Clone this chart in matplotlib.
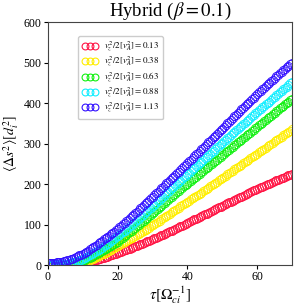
import matplotlib
matplotlib.use("Agg")
import matplotlib.pyplot as plt

plt.rcParams['font.family'] = ['Liberation Serif', 'DejaVu Serif']
plt.rcParams['mathtext.fontset'] = 'stix'

# tau sampled every 0.5 from 0 to 70 (141 samples)
tau = [0.5 * i for i in range(141)]

blue = [5, 5.1, 5.2, 5.5, 5.8, 6.3, 6.8, 7.5, 8.2, 9.1,
        10, 11.2, 12.5, 14.2, 16, 17.7, 19.5, 21.5, 23.5, 25.7,
        28, 30.5, 33, 35.7, 38.5, 41.5, 44.5, 47.5, 50.5, 53.7,
        57, 60, 63, 66, 69, 72.5, 76, 79.2, 82.5, 85.7,
        89, 92.7, 96.5, 100.2, 104, 108, 112, 116, 120, 124,
        128, 132, 136, 140, 144, 148, 152, 156.2, 160.5, 164.7,
        169, 173, 177, 181, 185, 189.2, 193.5, 197.5, 201.5, 205.7,
        210, 214, 218, 222.2, 226.5, 230.7, 235, 239.2, 243.5, 247.7,
        252, 256.2, 260.5, 264.7, 269, 273, 277, 281.2, 285.5, 289.7,
        294, 298.2, 302.5, 306.7, 311, 315.2, 319.5, 323.7, 328, 332.5,
        337, 341.2, 345.5, 349.7, 354, 358.2, 362.5, 366.7, 371, 375.5,
        380, 384.2, 388.5, 392.7, 397, 401, 405, 409.2, 413.5, 417.7,
        422, 426, 430, 434, 438, 442, 446, 450, 454, 458,
        462, 465.7, 469.5, 473.2, 477, 481, 485, 488.7, 492.5, 496.2,
        500]
cyan = [1, 1.1, 1.2, 1.3, 1.5, 1.7, 2, 2.2, 2.5, 2.7,
        3, 3.7, 4.5, 5.5, 6.5, 7.7, 9, 10.5, 12, 13.5,
        15, 17, 19, 21.5, 24, 26.5, 29, 31.7, 34.5, 37.2,
        40, 43, 46, 49, 52, 55.2, 58.5, 61.7, 65, 68,
        71, 74.5, 78, 81.5, 85, 88.5, 92, 95.7, 99.5, 103.2,
        107, 110.7, 114.5, 118.2, 122, 126, 130, 133.7, 137.5, 141.2,
        145, 149, 153, 157, 161, 165, 169, 173, 177, 181,
        185, 189, 193, 197, 201, 204.7, 208.5, 212.5, 216.5, 220.2,
        224, 228, 232, 236, 240, 243.7, 247.5, 251.5, 255.5, 259.2,
        263, 267, 271, 275, 279, 282.7, 286.5, 290.5, 294.5, 298.2,
        302, 305.7, 309.5, 313.2, 317, 321, 325, 328.7, 332.5, 336.2,
        340, 343.7, 347.5, 351.2, 355, 359, 363, 366.7, 370.5, 374.2,
        378, 381.7, 385.5, 389.2, 393, 396.5, 400, 403.7, 407.5, 411.2,
        415, 418.7, 422.5, 426.2, 430, 433.5, 437, 440.7, 444.5, 448.2,
        452]
green = [0, 0.1, 0.2, 0.4, 0.6, 0.8, 1, 1.2, 1.5, 1.7,
         2, 2.5, 3, 3.7, 4.5, 5.5, 6.5, 7.5, 8.5, 9.7,
         11, 12.7, 14.5, 16.5, 18.5, 20.7, 23, 25.2, 27.5, 29.7,
         32, 34.5, 37, 39.5, 42, 44.5, 47, 49.7, 52.5, 55.2,
         58, 61.2, 64.5, 67.7, 71, 74.5, 78, 81.5, 85, 88.5,
         92, 95.5, 99, 102.5, 106, 109.7, 113.5, 117.2, 121, 124.5,
         128, 131.7, 135.5, 139.2, 143, 146.7, 150.5, 154.2, 158, 161.5,
         165, 168.5, 172, 175.7, 179.5, 183, 186.5, 190.2, 194, 197.5,
         201, 204.5, 208, 211.5, 215, 218.5, 222, 225.5, 229, 232.5,
         236, 239.5, 243, 246.5, 250, 253.5, 257, 260.5, 264, 267.5,
         271, 274.5, 278, 281.5, 285, 288.5, 292, 295.5, 299, 302.5,
         306, 309.5, 313, 316.5, 320, 323.5, 327, 330.5, 334, 337.5,
         341, 344.5, 348, 351.5, 355, 358.5, 362, 365.5, 369, 372.5,
         376, 379.5, 383, 386.5, 390, 393.2, 396.5, 399.7, 403, 406.5,
         410]
yellow = [0, 0, 0, 0.1, 0.2, 0.3, 0.4, 0.5, 0.7, 0.8,
          1, 1.4, 1.8, 2.3, 2.8, 3.4, 4, 4.7, 5.5, 6.2,
          7, 8.2, 9.5, 11, 12.5, 14.2, 16, 18, 20, 22,
          24, 26, 28, 30.2, 32.5, 34.7, 37, 39.2, 41.5, 43.7,
          46, 48.5, 51, 53.5, 56, 58.5, 61, 63.7, 66.5, 69.2,
          72, 74.5, 77, 79.5, 82, 84.7, 87.5, 90, 92.5, 95.2,
          98, 101, 104, 106.7, 109.5, 112.5, 115.5, 118.2, 121, 124,
          127, 130, 133, 135.7, 138.5, 141.5, 144.5, 147.2, 150, 153,
          156, 159, 162, 164.7, 167.5, 170.5, 173.5, 176.2, 179, 182,
          185, 188, 191, 194, 197, 200, 203, 206, 209, 212,
          215, 218, 221, 224, 227, 230, 233, 236, 239, 242,
          245, 248, 251, 254, 257, 260, 263, 266, 269, 272,
          275, 278, 281, 284, 287, 290, 293, 296, 299, 302,
          305, 308, 311, 314, 317, 320, 323, 326, 329, 332,
          335]
red = [0, 0, 0, 0, 0, 0, 0, 0, 0, 0,
       0, 0.1, 0.3, 0.5, 0.8, 1.1, 1.5, 2, 2.6, 3.3,
       4, 4.9, 5.8, 6.8, 7.8, 8.9, 10, 11.2, 12.5, 13.7,
       15, 16.4, 17.8, 19.2, 20.7, 22.2, 23.7, 25.2, 26.8, 28.4,
       30, 31.5, 33, 34.5, 36, 37.5, 39, 40.7, 42.5, 44.2,
       46, 47.7, 49.5, 51.2, 53, 54.7, 56.5, 58.2, 60, 62,
       64, 65.7, 67.5, 69.5, 71.5, 73.2, 75, 77, 79, 81,
       83, 85, 87, 89, 91, 93.2, 95.5, 97.5, 99.5, 101.7,
       104, 106, 108, 110.2, 112.5, 114.5, 116.5, 118.7, 121, 123,
       125, 127, 129, 131.2, 133.5, 135.5, 137.5, 139.7, 142, 144,
       146, 148, 150, 152.2, 154.5, 156.5, 158.5, 160.7, 163, 165,
       167, 169, 171, 173.2, 175.5, 177.5, 179.5, 181.7, 184, 186,
       188, 190, 192, 193.7, 195.5, 197.5, 199.5, 201.2, 203, 205,
       207, 208.7, 210.5, 212.2, 214, 216, 218, 219.7, 221.5, 223.2,
       225]

series = [red, yellow, green, cyan, blue]
labels = ['0.13', '0.38', '0.63', '0.88', '1.13']
colors = ['#ff1444', '#ffee00', '#11f011', '#11eeff', '#3311ff']

fig = plt.figure(figsize=(2.99, 3.07), dpi=100)
ax = fig.add_axes([0.1605, 0.1368, 0.816, 0.7915])

for ys, lab, c in zip(series, labels, colors):
    ax.plot(tau[:len(ys)], ys, linestyle='none', marker='o', markersize=5.8,
            markerfacecolor='none', markeredgecolor=c, markeredgewidth=0.65,
            label=r'$v_z^2/2[v_A^2]=' + lab + '$')

ax.set_xlim(0, 70)
ax.set_ylim(0, 600)
ax.set_xticks([0, 20, 40, 60])
ax.set_yticks([0, 100, 200, 300, 400, 500, 600])
ax.tick_params(direction='out', length=3, width=0.8, labelsize=8.5,
               top=False, right=False, pad=1.5)
for s in ax.spines.values():
    s.set_color('#444444')
    s.set_linewidth(0.8)

ax.set_title(r'Hybrid ($\beta=0.1$)', fontsize=13.5, pad=3)
ax.set_xlabel(r'$\tau[\Omega_{ci}^{-1}]$', fontsize=11, labelpad=1)
ax.set_ylabel(r'$\langle\Delta s^2\rangle[d_i^2]$', fontsize=10, labelpad=2)

leg = ax.legend(loc='upper left', bbox_to_anchor=(0.105, 0.962), fontsize=6.5,
                numpoints=3, markerscale=0.85, handlelength=1.7, handletextpad=0.7,
                labelspacing=0.12, borderpad=0.45, framealpha=1.0)
for h in leg.legend_handles:
    h.set_markeredgewidth(0.8)
leg.get_frame().set_edgecolor('#cccccc')

fig.savefig('out.png', dpi=100)
